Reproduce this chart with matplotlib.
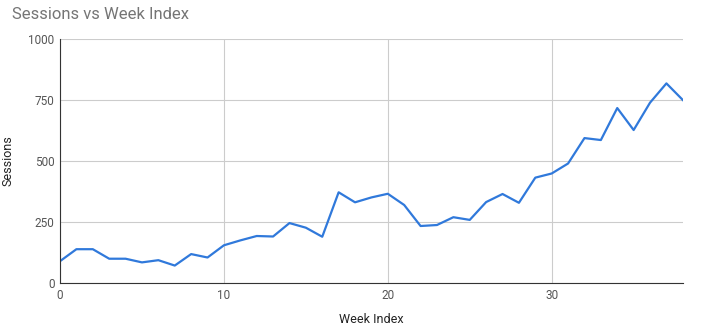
import matplotlib.pyplot as plt

# Weekly sessions
week_index = list(range(39))
sessions = [90, 139, 139, 100, 100, 85, 94, 72, 119, 105,
            155, 175, 193, 191, 246, 227, 190, 372, 331, 351,
            366, 320, 234, 238, 270, 259, 332, 365, 329, 432,
            449, 490, 594, 586, 717, 627, 739, 818, 750]

y_ticks = [0, 250, 500, 750, 1000]
x_ticks = [0, 10, 20, 30]

plt.rcParams['font.family'] = ['Roboto', 'DejaVu Sans']

fig = plt.figure(figsize=(7.25, 3.3), dpi=100)
ax = fig.add_axes([0.0828, 0.142, 0.859, 0.740])

ax.plot(week_index, sessions, color='#3079db', linewidth=1.6)

ax.set_xlim(0, 38)
ax.set_ylim(0, 1000)
ax.set_xticks(x_ticks)
ax.set_yticks(y_ticks)
ax.grid(True, color='#cccccc', linewidth=0.8)
ax.set_axisbelow(True)

for side in ['top', 'right']:
    ax.spines[side].set_visible(False)
ax.spines['left'].set_color('#333333')
ax.spines['bottom'].set_color('#333333')
ax.tick_params(length=0, labelsize=8.5, labelcolor='#555555', pad=4)

ax.set_xlabel('Week Index', fontsize=9, color='#222222', labelpad=8)
ax.set_ylabel('Sessions', fontsize=9, color='#222222', labelpad=10)

fig.text(0.017, 0.955, 'Sessions vs Week Index', fontsize=12, color='#757575',
         ha='left', va='center')

fig.savefig('out.png', dpi=100)
